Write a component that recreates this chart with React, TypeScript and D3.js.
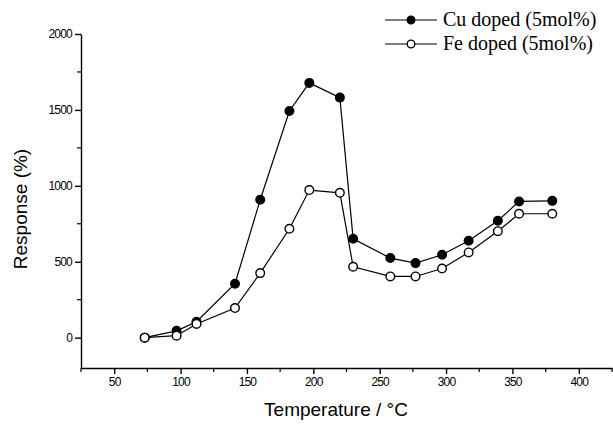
import React, { useEffect, useRef } from "react";
import * as d3 from "d3";

// temperatures (°C)
const temps = [73, 97, 112, 141, 160, 182, 197, 220, 230, 258, 277, 297, 317, 339, 355, 380];
// Cu doped (5mol%) response
const cuValues = [0, 45, 105, 355, 908, 1493, 1678, 1581, 651, 524, 491, 546, 638, 770, 897, 901];
// Fe doped (5mol%) response
const feValues = [0, 13, 90, 195, 425, 717, 972, 954, 467, 403, 403, 455, 561, 701, 816, 816];

const xTicks = [50, 100, 150, 200, 250, 300, 350, 400];
const yTicks = [0, 500, 1000, 1500, 2000];
const seriesNames = ["Cu doped (5mol%)", "Fe doped (5mol%)"];

const App: React.FC = () => {
  const svgRef = useRef<SVGSVGElement | null>(null);
  const width = 613;
  const height = 428;
  const plot = { left: 81, right: 612, top: 34, bottom: 368 };

  useEffect(() => {
    if (!svgRef.current) return;
    const svg = d3.select(svgRef.current);
    svg.selectAll("*").remove();

    const x = d3.scaleLinear().domain([25, 425]).range([plot.left, plot.right]);
    const y = d3.scaleLinear().domain([-200, 2000]).range([plot.bottom, plot.top]);

    const tickFont = "Arial, 'Liberation Sans', sans-serif";

    // x axis
    const xAxis = svg.append("g").attr("transform", `translate(0,${plot.bottom})`);
    xAxis
      .call(
        d3
          .axisBottom(x)
          .tickValues(xTicks)
          .tickFormat(d3.format("d"))
          .tickSize(6)
          .tickSizeOuter(0)
          .tickPadding(3)
      )
      .call((g) => g.select(".domain").attr("stroke-width", 1.4))
      .selectAll("text")
      .attr("font-family", tickFont)
      .attr("font-size", 12)
      .attr("letter-spacing", "-0.8px")
      .attr("fill", "#000");
    xAxis.selectAll("line").attr("stroke-width", 1.4);
    // minor x ticks
    xAxis
      .selectAll(".minor")
      .data(d3.range(25, 426, 50))
      .enter()
      .append("line")
      .attr("class", "minor")
      .attr("x1", (d) => x(d))
      .attr("x2", (d) => x(d))
      .attr("y1", 0)
      .attr("y2", 4)
      .attr("stroke", "#000")
      .attr("stroke-width", 1.2);

    // y axis
    const yAxis = svg.append("g").attr("transform", `translate(${plot.left},0)`);
    yAxis
      .call(
        d3
          .axisLeft(y)
          .tickValues(yTicks)
          .tickFormat(d3.format("d"))
          .tickSize(6)
          .tickSizeOuter(0)
          .tickPadding(3)
      )
      .call((g) => g.select(".domain").attr("stroke-width", 1.4))
      .selectAll("text")
      .attr("font-family", tickFont)
      .attr("font-size", 12)
      .attr("letter-spacing", "-0.8px")
      .attr("fill", "#000");
    yAxis.selectAll("line").attr("stroke-width", 1.4);
    yAxis
      .selectAll(".minor")
      .data(d3.range(250, 2000, 500))
      .enter()
      .append("line")
      .attr("class", "minor")
      .attr("x1", 0)
      .attr("x2", -4)
      .attr("y1", (d) => y(d))
      .attr("y2", (d) => y(d))
      .attr("stroke", "#000")
      .attr("stroke-width", 1.2);

    // axis titles
    svg
      .append("text")
      .attr("x", 336)
      .attr("y", 416)
      .attr("text-anchor", "middle")
      .attr("font-family", tickFont)
      .attr("font-size", 19)
      .text("Temperature / °C");

    svg
      .append("text")
      .attr("transform", `translate(27,${(plot.top + plot.bottom) / 2 + 8}) rotate(-90)`)
      .attr("text-anchor", "middle")
      .attr("font-family", tickFont)
      .attr("font-size", 19)
      .text("Response (%)");

    // series
    const series = [
      { name: seriesNames[0], values: cuValues, fill: "#000" },
      { name: seriesNames[1], values: feValues, fill: "#fff" },
    ];
    const line = d3
      .line<number>()
      .x((_d, i) => x(temps[i]))
      .y((d) => y(d));

    series.forEach((s) => {
      svg
        .append("path")
        .datum(s.values)
        .attr("fill", "none")
        .attr("stroke", "#000")
        .attr("stroke-width", 1.2)
        .attr("d", line);
    });
    series.forEach((s) => {
      svg
        .append("g")
        .selectAll("circle")
        .data(s.values)
        .enter()
        .append("circle")
        .attr("cx", (_d, i) => x(temps[i]))
        .attr("cy", (d) => y(d))
        .attr("r", 4.3)
        .attr("fill", s.fill)
        .attr("stroke", "#000")
        .attr("stroke-width", 1.4);
    });

    // legend
    const legend = svg.append("g").attr("transform", "translate(385,20)");
    series.forEach((s, i) => {
      const item = legend.append("g").attr("transform", `translate(0,${i * 24})`);
      item
        .append("line")
        .attr("x1", 0)
        .attr("x2", 52)
        .attr("y1", 0)
        .attr("y2", 0)
        .attr("stroke", "#000")
        .attr("stroke-width", 1.2);
      item
        .append("circle")
        .attr("cx", 26)
        .attr("cy", 0)
        .attr("r", 3.8)
        .attr("fill", s.fill)
        .attr("stroke", "#000")
        .attr("stroke-width", 1.3);
      item
        .append("text")
        .attr("x", 58)
        .attr("y", 6)
        .attr("font-family", "'Times New Roman', 'Liberation Serif', serif")
        .attr("font-size", 20)
        .text(s.name);
    });
  }, []);

  return (
    <svg
      ref={svgRef}
      width={width}
      height={height}
      style={{ position: "absolute", left: 0, top: 0, background: "#fff" }}
    ></svg>
  );
};

export default App;
